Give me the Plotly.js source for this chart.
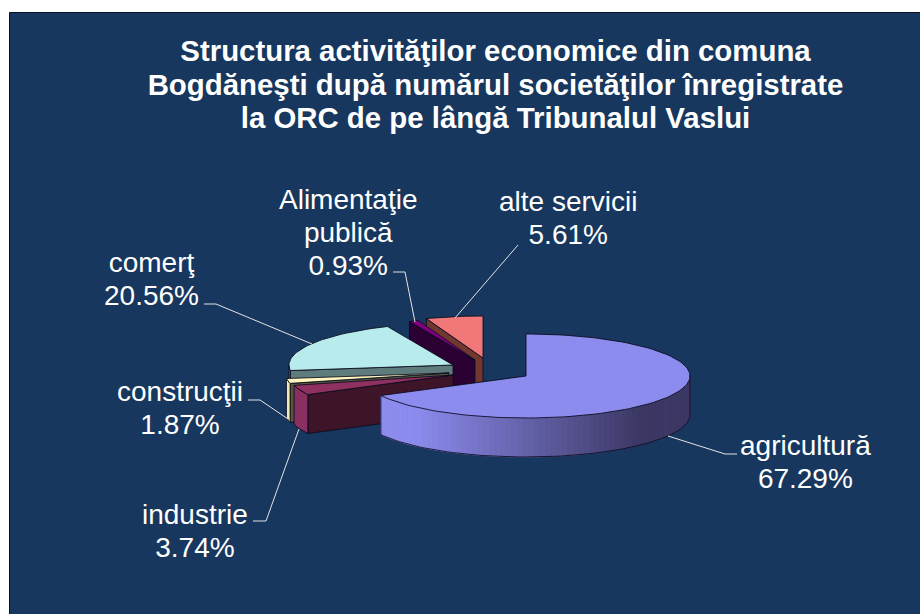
<!DOCTYPE html>
<html>
<head>
<meta charset="utf-8">
<script src="https://cdn.plot.ly/plotly-3.0.1.min.js"></script>
<style>html,body{margin:0;padding:0;background:#fff}#chart{width:920px;height:614px}</style>
</head>
<body>
<div id="chart"></div>
<script>
// ---- data, in the reference's slice order (clockwise from 12 o'clock)
const categories = ["agricultură", "industrie", "construcţii", "comerţ", "Alimentaţie<br>publică", "alte servicii"];
const shares = [67.29, 3.74, 1.87, 20.56, 0.93, 5.61];
const titleText = "Structura activităţilor economice din comuna<br>Bogdăneşti după numărul societăţilor înregistrate<br>la ORC de pe lângă Tribunalul Vaslui";

// ---- styles
const topColors  = ["#8C8CEE", "#8E3060", "#FFF6BE", "#B8ECEC", "#7F007F", "#F07878"];
const rimColors  = ["#8C8CEE", "#8A3060", "#F0EAB0", "#5F7C7C", "#3A003A", "#70382E"];
const wallColors = ["#45406E", "#3D1428", "#55563E", "#5F7C7C", "#2B0033", "#70382E"];
const rimDark = "#3C3864";

// ---- geometry of the exploded 3-D pie (pixel-based axis)
const RX = 164, RY = 42, DEPTH = 39;
const apexX = [526, 453, 449, 453, 475, 483];
const apexY = [376, 375, 373, 365, 360, 358];
const drawOrder = [5, 4, 3, 2, 1, 0];
const labelX = [805, 195, 180, 151, 348, 568];
const labelY = [463, 532, 409, 280, 236, 219];
const leaderX = [[668, 725, 737], [253, 266, 299], [248, 260, 288], [204, 216, 312], [393, 405, 415], [518, 455]];
const leaderY = [[436, 454, 454], [521, 521, 429], [400, 400, 419], [304, 304, 344], [272, 272, 322], [245, 318]];

const total = shares.reduce((a, b) => a + b, 0);
const rad = d => d * Math.PI / 180;
const px = (i, a) => apexX[i] + RX * Math.sin(rad(a));
const py = (i, a) => apexY[i] - RY * Math.cos(rad(a));
function arcAngles(a0, a1) {
  const out = [], n = Math.max(2, Math.ceil(Math.abs(a1 - a0) / 2));
  for (let k = 0; k <= n; k++) out.push(a0 + (a1 - a0) * k / n);
  return out;
}
function poly(xs, ys, fill, line, width) {
  return {type: "scatter", mode: "lines", x: xs.concat(xs[0]), y: ys.concat(ys[0]),
          fill: "toself", fillcolor: fill, hoverinfo: "skip", showlegend: false,
          line: {color: line, width: width === undefined ? 1 : width}};
}
function mix(c1, c2, t) {
  const h = c => [1, 3, 5].map(p => parseInt(c.substr(p, 2), 16));
  const a = h(c1), b = h(c2);
  return "rgb(" + a.map((v, i) => Math.round(v + (b[i] - v) * t)).join(",") + ")";
}

const starts = [];
shares.reduce((acc, v, i) => { starts[i] = acc; return acc + v; }, 0);
const traces = [];
const OUTLINE = "rgba(10,10,30,0.85)";

drawOrder.forEach(i => {
  const a0 = starts[i] / total * 360, a1 = (starts[i] + shares[i]) / total * 360;
  const cx = apexX[i], cy = apexY[i];
  // radial wall that faces the viewer (the large slice shows none)
  if (i !== 0) {
    traces.push(poly([cx, px(i, a0), px(i, a0), cx], [cy, py(i, a0), py(i, a0) + DEPTH, cy + DEPTH], wallColors[i], OUTLINE));
  }
  // outer rim: only the part that faces the viewer
  const r0 = Math.max(a0, 90), r1 = Math.min(a1, 270);
  if (r1 > r0) {
    const angles = arcAngles(r1, r0);
    if (i === 0) {
      for (let k = 0; k < angles.length - 1; k++) {
        const xa = px(i, angles[k]), xb = px(i, angles[k + 1]);
        const t = Math.min(1, Math.max(0, ((xa + xb) / 2 - 415) / 225));
        const c = mix(rimColors[0], rimDark, t);
        traces.push(poly([xa, xb, xb, xa],
          [py(i, angles[k]), py(i, angles[k + 1]), py(i, angles[k + 1]) + DEPTH, py(i, angles[k]) + DEPTH], c, c, 1));
      }
      const xs = angles.map(a => px(i, a)), ys = angles.map(a => py(i, a) + DEPTH);
      traces.push({type: "scatter", mode: "lines", x: [xs[0]].concat(xs, [xs[xs.length - 1]]),
        y: [py(i, angles[0])].concat(ys, [py(i, angles[angles.length - 1])]),
        hoverinfo: "skip", showlegend: false, line: {color: OUTLINE, width: 1}});
    } else {
      const xs = angles.map(a => px(i, a)), ys = angles.map(a => py(i, a));
      const xb = xs.slice().reverse(), yb = ys.map(v => v + DEPTH).reverse();
      traces.push(poly(xs.concat(xb), ys.concat(yb), rimColors[i], OUTLINE));
    }
  }
  // top face
  const top = arcAngles(a0, a1);
  traces.push(poly([cx].concat(top.map(a => px(i, a))), [cy].concat(top.map(a => py(i, a))), topColors[i], OUTLINE));
});

// leader lines
categories.forEach((c, i) => {
  traces.push({type: "scatter", mode: "lines", x: leaderX[i], y: leaderY[i], hoverinfo: "skip",
               showlegend: false, line: {color: "#E4E4E4", width: 1}});
});

const layout = {
  width: 920, height: 614,
  margin: {l: 0, r: 0, t: 0, b: 0},
  paper_bgcolor: "#FFFFFF", plot_bgcolor: "rgba(0,0,0,0)",
  showlegend: false,
  title: {text: titleText, x: 495.5 / 920, xanchor: "center", y: 1 - 61 / 614, yanchor: "top",
          font: {family: "Liberation Sans, Arial, sans-serif", size: 29.4, color: "#FFFFFF", weight: 700}},
  xaxis: {range: [0, 920], visible: false, fixedrange: true},
  yaxis: {range: [614, 0], visible: false, fixedrange: true},
  shapes: [{type: "rect", xref: "x", yref: "y", x0: 9.5, x1: 925, y0: 12.5, y1: 620,
            fillcolor: "#17375E", line: {color: "#0A0F1E", width: 1}, layer: "below"}],
  annotations: categories.map((c, i) => ({
    x: labelX[i], y: labelY[i], xref: "x", yref: "y", showarrow: false,
    xanchor: "center", yanchor: "middle", align: "center",
    text: c + "<br>" + shares[i].toFixed(2) + "%",
    font: {family: "Liberation Sans, Arial, sans-serif", size: 28, color: "#FFFFFF"}
  }))
};
Plotly.newPlot("chart", traces, layout, {displayModeBar: false, staticPlot: true}).then(gd => {
  // tighter line spacing than Plotly's fixed 1.3em, as in the reference
  const tighten = (sel, em) => gd.querySelectorAll(sel).forEach(t => {
    t.querySelectorAll("tspan.line").forEach((l, k) => l.setAttribute("dy", (k * em) + "em"));
  });
  tighten(".gtitle", 1.14);
  tighten(".annotation-text", 1.17);
});
</script>
</body>
</html>
